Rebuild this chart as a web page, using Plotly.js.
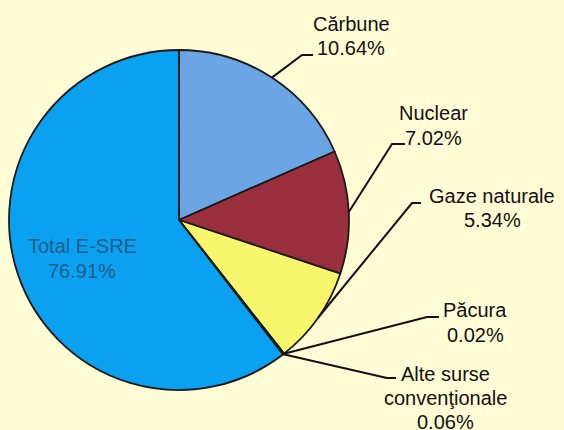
<!DOCTYPE html>
<html>
<head>
<meta charset="utf-8">
<script src="https://cdn.plot.ly/plotly-3.0.1.min.js"></script>
<style>html,body{margin:0;padding:0;background:#fffcd6;}#chart{width:564px;height:430px;}</style>
</head>
<body>
<div id="chart"></div>
<script>
// Slice names as labelled
var categories = ["Cărbune", "Nuclear", "Gaze naturale", "Păcura", "Alte surse convenţionale", "Total E-SRE"];
// Slice sizes as drawn in the picture (measured angles)
var sliceValues = [18.4, 11.7, 9.3, 0.03, 0.1, 60.47];
// Percent labels as printed
var labelPercents = ["10.64%", "7.02%", "5.34%", "0.02%", "0.06%", "76.91%"];
// Label text lines as printed
var labelLines = [["Cărbune"], ["Nuclear"], ["Gaze naturale"], ["Păcura"], ["Alte surse", "convenţionale"], ["Total E-SRE"]];
var colors = ["#6ca5e5", "#9a303e", "#f8f76c", "#f8f76c", "#0aa2f0", "#0aa2f0"];

var W = 564, H = 430;
var cx = 179, cy = 220, R = 170;
var dom = {x: [(cx - R) / W, (cx + R) / W], y: [1 - (cy + R) / H, 1 - (cy - R) / H]};

function px(x) { return x / W; }
function py(y) { return 1 - y / H; }

var total = sliceValues.reduce(function (a, b) { return a + b; }, 0);
function edgePoint(i) {
  var before = 0;
  for (var k = 0; k < i; k++) before += sliceValues[k];
  var f = (before + sliceValues[i] / 2) / total;
  var th = 2 * Math.PI * f;
  return [cx + R * Math.sin(th), cy - R * Math.cos(th)];
}

var trace = {
  type: "pie",
  labels: categories,
  values: sliceValues,
  sort: false,
  direction: "clockwise",
  rotation: 0,
  textinfo: "none",
  hoverinfo: "label+percent",
  marker: {colors: colors, line: {color: "#1a1a1a", width: 1.8}},
  domain: dom,
  showlegend: false
};

// label layout: text centre x, first baseline y, line step, elbow end x, elbow y, diagonal end x
var lab = [
  {tx: 351, by: 31, step: 24, ex: 313, ey: 55, dx: 302},
  {tx: 434, by: 120, step: 25, ex: 405, ey: 144, dx: 392},
  {tx: 492, by: 203, step: 24, ex: 421, ey: 203, dx: 412},
  {tx: 475, by: 317, step: 25, ex: 439, ey: 317, dx: 427},
  {tx: 445, by: 381, step: 24, ex: 396, ey: 378, dx: 387},
  {tx: 82, by: 253, step: 25}
];

var annotations = [];
var shapes = [];
var fontFam = "Liberation Sans, Arial, sans-serif";
for (var i = 0; i < 6; i++) {
  var L = lab[i];
  var lines = labelLines[i].concat([labelPercents[i]]);
  for (var j = 0; j < lines.length; j++) {
    annotations.push({
      xref: "paper", yref: "paper", x: px(L.tx), y: py(L.by + j * L.step - 7),
      xanchor: "center", yanchor: "middle", showarrow: false,
      text: lines[j],
      font: {family: fontFam, size: 20, color: i === 5 ? "#1d5c8e" : "#111111"}
    });
  }
  if (i < 5) {
    var p = edgePoint(i);
    shapes.push({
      type: "path", xref: "paper", yref: "paper",
      path: "M" + px(p[0]) + "," + py(p[1]) + " L" + px(L.dx) + "," + py(L.ey) + " L" + px(L.ex) + "," + py(L.ey),
      line: {color: "#111111", width: 2}
    });
  }
}

var layout = {
  width: W, height: H,
  margin: {l: 0, r: 0, t: 0, b: 0},
  paper_bgcolor: "#fffcd6",
  plot_bgcolor: "#fffcd6",
  annotations: annotations,
  shapes: shapes,
  showlegend: false
};

Plotly.newPlot("chart", [trace], layout, {displayModeBar: false, staticPlot: true});
</script>
</body>
</html>
